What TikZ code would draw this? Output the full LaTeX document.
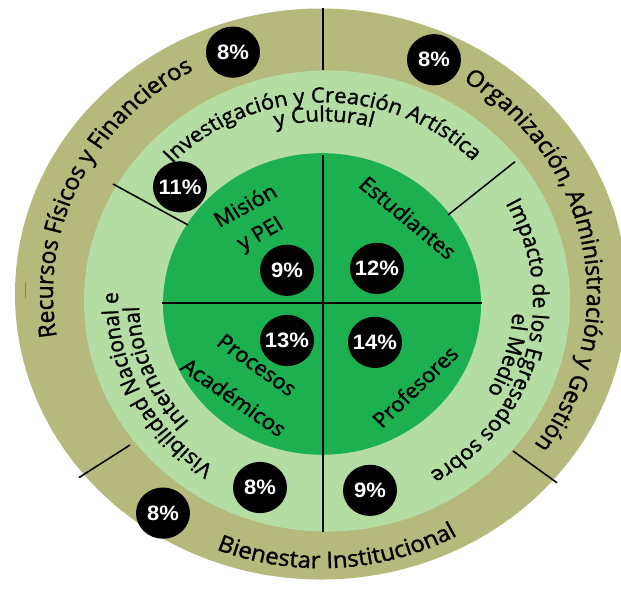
\documentclass[tikz,border=0pt]{standalone}
\usepackage{fontspec}
\setmainfont{Open Sans}[FakeBold=1.4]
\newfontfamily\ringfont{Open Sans}[FakeBold=1.4]
\newfontfamily\pctfont{Liberation Sans}
\usetikzlibrary{decorations.text}
\definecolor{ringolive}{HTML}{B5B97C}
\definecolor{ringlight}{HTML}{B4DDA4}
\definecolor{ringdark}{HTML}{1DB050}
\newcommand\fontOuter{\ringfont\fontsize{24}{28}\selectfont}
\newcommand\fontRing{\ringfont\fontsize{22}{26}\selectfont}
% #1,#2 centre; #3 radius (pt); #4 start angle; #5 end angle; #6 text
\newcommand\arcText[6]{%
  \path[decorate, decoration={text along path, text align=center, text={#6}}]
    ([shift={(#1,#2)}]#4:#3pt) arc[start angle=#4, end angle=#5, radius=#3pt];}
\begin{document}
\begin{tikzpicture}[x=1pt,y=1pt,
  pct/.style={circle, fill=black, minimum size=54pt, inner sep=0pt, text=white,
    font=\pctfont\bfseries\fontsize{22}{22}\selectfont},
  quadlabel/.style={font=\fontRing, text=black, inner sep=0pt},
  divline/.style={line width=1.6pt, draw=black}
]
\path[use as bounding box, fill=white] (0,0) rectangle (621,589);
\begin{scope}[transform canvas={yscale=0.9485}]
  % rings
  \fill[ringolive] (321,311) ellipse [x radius=306pt, y radius=301pt];
  \fill[ringlight] (327,303.6) circle [radius=243pt];
  \fill[ringdark] (322,300.5) circle [radius=159pt];

  % small grey mark beside "Recursos"
  \coordinate (markA) at (25,323.5);
  \coordinate (markB) at (25,306.5);
  \draw[gray, line width=0.8pt] (markA) -- (markB);

  % dividing lines
  \coordinate (topA) at (323,613);
  \coordinate (topB) at (323,547);
  \coordinate (vA) at (323,458);
  \coordinate (vB) at (323,60);
  \coordinate (hA) at (162,301.5);
  \coordinate (hB) at (482,301.5);
  \coordinate (ulA) at (188,383.8);
  \coordinate (ulB) at (113,427);
  \coordinate (urA) at (448,394.3);
  \coordinate (urB) at (515,450.5);
  \coordinate (llA) at (130,151.8);
  \coordinate (llB) at (79,117.5);
  \coordinate (lrA) at (513,145.5);
  \coordinate (lrB) at (557,112);
  \draw[divline] (topA) -- (topB);
  \draw[divline] (vA) -- (vB);
  \draw[divline] (hA) -- (hB);
  \draw[divline] (ulA) -- (ulB);
  \draw[divline] (urA) -- (urB);
  \draw[divline] (llA) -- (llB);
  \draw[divline] (lrA) -- (lrB);

  % outer ring texts
  \arcText{321}{311}{268}{234}{74}{|\fontOuter|Recursos Físicos y Financieros}
  \arcText{321}{311}{266}{100}{-79}{|\fontOuter|Organización, Administración y Gestión}
  \arcText{321}{311}{289}{200}{347}{|\fontOuter|Bienestar Institucional}

  % light ring texts
  \arcText{324}{303}{210}{180}{1}{|\fontRing|Investigación y Creación Artística}
  \arcText{324}{303}{190}{150}{30}{|\fontRing|y Cultural}
  \arcText{324}{303}{209}{75}{-105}{|\fontRing|Impacto de los Egresados sobre}
  \arcText{324}{303}{189}{40}{-74}{|\fontRing|el Medio}
  \arcText{324}{303}{206}{280}{135}{|\fontRing|Visibilidad Nacional e}
  \arcText{324}{303}{185}{270}{135}{|\fontRing|Internacional}

  % inner quadrant texts
  \node[quadlabel, rotate=30] (mision) at (245,404.8) {Misión};
  \node[quadlabel, rotate=30] (pei) at (261,373.2) {y PEI};
  \node[quadlabel, rotate=-41] (estud) at (408,391.7) {Estudiantes};
  \node[quadlabel, rotate=-37] (proc) at (257,236.2) {Procesos};
  \node[quadlabel, rotate=-36] (acad) at (234,202.4) {Académicos};
  \node[quadlabel, rotate=45] (prof) at (415,213.5) {Profesores};

  % percentage badges
  \node[pct] (p8a) at (233,566) {8\%};
  \node[pct] (p8b) at (434,558) {8\%};
  \node[pct] (p11) at (180,424) {11\%};
  \node[pct] (p9a) at (287,336) {9\%};
  \node[pct] (p12) at (377,338) {12\%};
  \node[pct] (p13) at (287,262) {13\%};
  \node[pct] (p14) at (375,260) {14\%};
  \node[pct] (p8c) at (260,107) {8\%};
  \node[pct] (p9b) at (370,104) {9\%};
  \node[pct] (p8d) at (163,80) {8\%};
\end{scope}
\end{tikzpicture}
\end{document}
